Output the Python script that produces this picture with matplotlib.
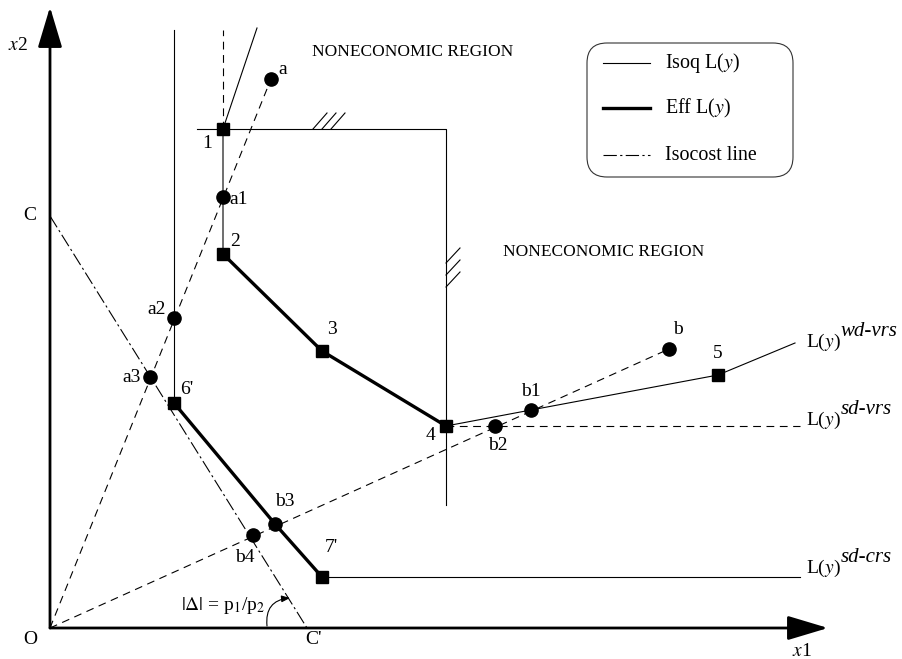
import matplotlib.pyplot as plt
from matplotlib.patches import FancyBboxPatch

plt.rcParams['font.family'] = ['Liberation Serif', 'DejaVu Serif']
plt.rcParams['mathtext.fontset'] = 'stix'

# corner points of the isoquants (x1, x2)
corner_names = ["1", "2", "3", "4", "5", "6'", "7'"]
corner_x1 = [173, 173, 272, 396, 668, 124, 272]
corner_x2 = [499, 374, 277, 202, 253, 225, 51]

# observed units and their projections
unit_names = ["a", "a1", "a2", "a3", "b", "b1", "b2", "b3", "b4"]
unit_x1 = [221, 173, 124, 100, 619, 481, 445, 225, 203]
unit_x2 = [549, 431, 310, 251, 279, 218, 202, 104, 93]

# isoquant pieces
wd_thin_x1 = [207, 173, 173]
wd_thin_x2 = [600, 499, 374]
wd_eff_x1 = [173, 272, 396]
wd_eff_x2 = [374, 277, 202]
wd_tail_x1 = [396, 481, 668, 745]
wd_tail_x2 = [202, 218, 253, 285]
sdvrs_x1 = [396, 750]
sdvrs_x2 = [202, 202]
sdvrs_top_x1 = [173, 173]
sdvrs_top_x2 = [499, 598]
crs_vert_x1 = [124, 124]
crs_vert_x2 = [598, 225]
crs_eff_x1 = [124, 225, 272]
crs_eff_x2 = [225, 104, 51]
crs_tail_x1 = [272, 750]
crs_tail_x2 = [51, 51]

# noneconomic region boundary
region_x1 = [147, 396, 396]
region_x2 = [499, 499, 123]

# isocost line C -> C'
cost_x1 = [0, 257]
cost_x2 = [412, 0]

# label offsets in pixels
corner_off = {"1": (-16, -14), "2": (12, 13), "3": (10, 21), "4": (-16, -10),
              "5": (0, 21), "6'": (13, 13), "7'": (9, 30)}
unit_off = {"a": (12, 9), "a1": (16, -2), "a2": (-17, 8), "a3": (-18, 0),
            "b": (9, 19), "b1": (0, 18), "b2": (3, -20), "b3": (10, 23), "b4": (-8, -23)}

thin = 0.8
thick = 2.4
dash = (7, 5)
dashdot = (12, 3, 2, 3)

fig = plt.figure(figsize=(9.02, 6.59), dpi=100)
ax = fig.add_axes([0, 0, 1, 1])
ax.set_xlim(-50, 852)
ax.set_ylim(-31, 628)
ax.axis('off')

# axes with arrows
arrow = dict(arrowstyle='-|>,head_length=2.5,head_width=0.75', lw=2, color='black',
             shrinkA=0, shrinkB=0, mutation_scale=10)
ax.annotate('', xy=(0, 621), xytext=(0, 0), arrowprops=arrow)
ax.annotate('', xy=(778, 0), xytext=(0, 0), arrowprops=arrow)

# rays from origin through a and b
ax.plot([0, unit_x1[0]], [0, unit_x2[0]], color='black', lw=thin, dashes=dash)
ax.plot([0, unit_x1[4]], [0, unit_x2[4]], color='black', lw=thin, dashes=dash)

# isocost
ax.plot(cost_x1, cost_x2, color='black', lw=thin, dashes=dashdot)

# region boundary + hatching
ax.plot(region_x1, region_x2, color='black', lw=thin)
for hx in [263, 272, 281]:
    ax.plot([hx, hx + 14], [499, 515], color='black', lw=thin)
for hy in [365, 353, 341]:
    ax.plot([396, 410], [hy, hy + 15], color='black', lw=thin)

# isoquants
ax.plot(wd_thin_x1, wd_thin_x2, color='black', lw=thin)
ax.plot(wd_eff_x1, wd_eff_x2, color='black', lw=thick)
ax.plot(wd_tail_x1, wd_tail_x2, color='black', lw=thin)
ax.plot(sdvrs_x1, sdvrs_x2, color='black', lw=thin, dashes=dash)
ax.plot(sdvrs_top_x1, sdvrs_top_x2, color='black', lw=thin, dashes=dash)
ax.plot(crs_vert_x1, crs_vert_x2, color='black', lw=thin)
ax.plot(crs_eff_x1, crs_eff_x2, color='black', lw=thick)
ax.plot(crs_tail_x1, crs_tail_x2, color='black', lw=thin)

# markers
ax.plot(corner_x1, corner_x2, 's', color='black', ms=9, zorder=5)
ax.plot(unit_x1, unit_x2, 'o', color='black', ms=9.5, zorder=5)

fs = 14
for n, x, y in zip(corner_names, corner_x1, corner_x2):
    ax.annotate(n, (x, y), xytext=corner_off[n], textcoords='offset pixels',
                ha='center', va='center', fontsize=fs)
for n, x, y in zip(unit_names, unit_x1, unit_x2):
    ax.annotate(n, (x, y), xytext=unit_off[n], textcoords='offset pixels',
                ha='center', va='center', fontsize=fs)

# axis labels
ax.text(-20, -12, 'O', ha='center', va='center', fontsize=fs)
ax.text(-20, 412, 'C', ha='center', va='center', fontsize=fs)
ax.text(263, -12, "C'", ha='center', va='center', fontsize=fs)
ax.text(-32, 583, r'$x$2', ha='center', va='center', fontsize=fs)
ax.text(752, -24, r'$x$1', ha='center', va='center', fontsize=fs)

ax.text(262, 576, 'NONECONOMIC REGION', ha='left', va='center', fontsize=12.5)
ax.text(453, 376, 'NONECONOMIC REGION', ha='left', va='center', fontsize=12.5)

# isoquant names with raised superscripts
for base_y, sup in [(281, 'wd-vrs'), (203, 'sd-vrs'), (55, 'sd-crs')]:
    t = ax.text(756, base_y, r'L($y$)', ha='left', va='baseline', fontsize=14)
    ax.annotate(sup, xy=(1, 0), xycoords=t, xytext=(0, 12), textcoords='offset pixels',
                ha='left', va='bottom', fontsize=15, style='italic')

# slope of isocost
ax.text(173, 23, r'$\left|\Delta\right|$ = p$_1$/p$_2$', ha='center', va='center', fontsize=14)
ax.annotate('', xy=(240, 30), xytext=(217, 2),
            arrowprops=dict(arrowstyle='-|>,head_length=0.5,head_width=0.2', lw=0.8,
                            color='black', shrinkA=0, shrinkB=0, mutation_scale=10,
                            connectionstyle='arc3,rad=-0.5'))

# legend box
box = FancyBboxPatch((537, 451), 206, 134, boxstyle='round,pad=0,rounding_size=20',
                     facecolor='white', edgecolor='#333333', lw=0.8)
ax.add_patch(box)
ax.plot([553, 600], [565, 565], color='black', lw=thin)
ax.plot([553, 600], [520, 520], color='black', lw=thick)
ax.plot([553, 600], [473, 473], color='black', lw=thin, dashes=dashdot)
ax.text(615, 565, r'Isoq L($y$)', ha='left', va='center', fontsize=14.4)
ax.text(615, 520, r'Eff L($y$)', ha='left', va='center', fontsize=14.4)
ax.text(615, 473, 'Isocost line', ha='left', va='center', fontsize=14.4)

fig.savefig('out.png', dpi=100)
